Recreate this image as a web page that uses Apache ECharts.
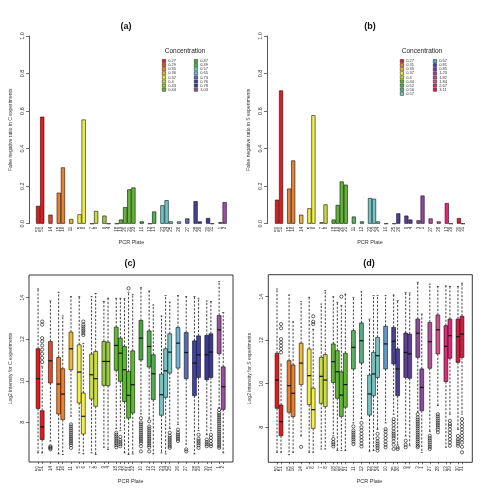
<!DOCTYPE html>
<html>
<head>
<meta charset="utf-8">
<script src="https://cdn.jsdelivr.net/npm/echarts@6/dist/echarts.min.js"></script>
<style>
  html, body { margin: 0; padding: 0; background: #fff; }
  #main { width: 497px; height: 492px; }
</style>
</head>
<body>
<div id="main"></div>
<script>
// ---- data ----
var cGroups = [2, 1, 2, 1, 2, 2, 2, 5, 1, 2, 3, 1, 1, 2, 2, 2];
var sGroups = [2, 2, 1, 2, 2, 4, 1, 1, 3, 1, 2, 2, 2, 1, 1, 2, 2];

var cConc = ['0.27', '0.29', '0.35', '0.36', '0.37', '0.4', '0.43', '0.44',
             '0.47', '0.49', '0.57', '0.65', '0.73', '0.76', '0.78', '1.03'];
var sConc = ['0.27', '0.31', '0.35', '0.37', '0.4', '0.44', '0.52', '0.56', '0.57',
             '0.67', '0.81', '0.85', '1.23', '1.82', '1.84', '2.67', '3.11'];

var cPlates = ['50', '51', '14', '15', '16', '11', '5', '6', '7', '8', '9', '4',
               '18', '19', '20', '21', '22', '10', '12', '13', '23', '24', '25',
               '26', '27', '28', '29', '30', '31', '1', '2'];
var sPlates = ['50', '51', '15', '16', '14', '5', '6', '7', '8', '18', '19', '20',
               '21', '11', '12', '22', '23', '24', '10', '25', '26', '9', '4', '3',
               '1', '27', '28', '13', '29', '30', '31'];

var cColors = ['#e31a1c', '#dc4c2c', '#ea8030', '#f2b631', '#f4f03c', '#c9dd3b', '#9bcc3f', '#5fba31',
               '#47a83c', '#4cb14a', '#72c7c6', '#6fb9d6', '#5b6ab2', '#41429e', '#3d3896', '#9a4ea2'];
var sColors = ['#e31a1c', '#ea8030', '#f2b631', '#f4f03c', '#c9dd3b', '#5fba31', '#55b55a', '#4fb47e',
               '#72c7c6', '#5d9ad4', '#4a3e9b', '#5e3f98', '#8b4a9c', '#b54d9b', '#d44f8c', '#e2267a', '#d41d3f'];

// false negative ratios
var cFalseNeg = [0.095, 0.57, 0.048, 0.165, 0.30, 0.025, 0.05, 0.555, 0, 0.068, 0.043, 0,
                 0, 0.022, 0.088, 0.183, 0.193, 0.012, 0, 0.065, 0.098, 0.125, 0.012,
                 0.012, 0.028, 0.12, 0.012, 0.03, 0, 0.008, 0.115];
var sFalseNeg = [0.128, 0.71, 0.187, 0.337, 0.048, 0.082, 0.578, 0.008, 0.103,
                 0.022, 0.1, 0.225, 0.208, 0.038, 0.012, 0.137, 0.133, 0.012, 0,
                 0, 0.055, 0.043, 0.022, 0.018, 0.15, 0.028, 0.012, 0.11, 0, 0.03, 0];

// log2 intensity box stats, C experiments
var cLow  = [6.53, 6.53, 7.1, 6.48, 6.45, 8.3, 6.53, 6.48, 6.53, 6.45, 6.8, 6.69, 7.7, 7.6, 6.53, 6.45,
             6.48, 8.4, 8.2, 6.48, 6.53, 6.48, 7.7, 7.9, 6.95, 6.48, 7.6, 7.4, 7.6, 8.7, 6.53];
var cQ1   = [8.66, 7.17, 9.89, 8.4, 8.13, 10.53, 8.93, 7.44, 9.12, 8.77, 9.78, 9.76, 10.5, 9.97, 9.0, 8.2,
             8.45, 11.0, 10.66, 9.09, 8.34, 9.2, 10.37, 10.61, 10.1, 9.28, 10.16, 10.05, 10.16, 11.31, 8.62];
var cMed  = [10.1, 7.78, 10.96, 9.84, 9.36, 11.54, 10.42, 8.29, 10.29, 10.1, 10.93, 10.93, 11.7, 11.33, 10.53, 9.3,
             9.81, 12.05, 11.65, 10.34, 9.33, 10.48, 11.38, 11.81, 11.36, 10.85, 11.25, 11.25, 11.38, 12.45, 9.71];
var cQ3   = [11.54, 8.56, 11.89, 11.12, 10.58, 12.34, 11.73, 9.41, 11.28, 11.41, 11.89, 11.86, 12.58, 12.05, 11.65, 10.45,
             11.44, 12.9, 12.4, 11.25, 10.32, 11.54, 12.26, 12.56, 12.32, 11.92, 12.16, 12.18, 12.26, 13.14, 10.67];
var cHigh = [14.42, 10.7, 13.84, 14.26, 13.12, 14.05, 14.05, 11.8, 14.05, 14.2, 13.81, 13.97, 13.97, 13.97, 13.95, 14.26,
             14.16, 14.48, 14.32, 13.65, 13.12, 14.1, 13.78, 14.1, 14.05, 14.05, 13.97, 13.84, 13.81, 14.77, 13.28];
var cOutliers = [
  [], [10.9, 11.1, 11.3, 11.5, 11.7, 11.9, 12.05, 12.7, 12.85], [6.7, 6.75, 6.8, 6.85], [], [],
  [6.77, 6.9, 7.0, 7.1, 7.2, 7.3, 7.4, 7.5, 7.6, 7.7, 7.8, 7.9], [], [12.2, 12.3, 12.4, 12.5, 12.6, 12.7, 12.85],
  [], [], [], [], [6.8, 6.9, 7.0, 7.1, 7.2, 7.3, 7.4, 7.5], [6.85, 6.95, 7.05, 7.15, 7.3], [], [14.45], [],
  [6.6, 6.85, 7.0, 7.1, 7.2, 7.3, 7.4, 7.5, 7.6, 7.7, 7.8, 7.9, 8.0, 8.2],
  [6.6, 6.8, 6.9, 7.0, 7.1, 7.2, 7.3, 7.4, 7.5, 7.6, 7.7, 7.8, 8.05], [], [], [],
  [6.77, 6.85, 6.95, 7.05, 7.15, 7.25, 7.35, 7.5], [7.1, 7.2, 7.3, 7.4, 7.5, 7.65], [6.6, 6.7], [],
  [6.77, 6.9, 7.0, 7.1, 7.2, 7.4], [6.85, 6.95, 7.05, 7.17], [6.85, 6.95, 7.1, 7.25, 7.4],
  [6.77, 6.85, 6.95, 7.05, 7.15, 7.25, 7.35, 7.45, 7.55, 7.65, 7.75, 7.85, 7.95, 8.05, 8.15, 8.25, 8.35, 8.45, 8.6],
  []
];

// log2 intensity box stats, S experiments
var sLow  = [6.85, 6.85, 6.74, 6.85, 7.6, 6.85, 6.85, 7.0, 7.0, 7.6, 6.93, 6.93, 6.93, 8.2, 8.4, 6.9,
             6.93, 7.9, 8.2, 8.6, 7.2, 7.6, 7.15, 8.7, 6.85, 7.8, 9.0, 7.08, 8.6, 7.9, 8.6];
var sQ1   = [8.87, 7.61, 8.69, 8.49, 9.96, 9.04, 7.95, 9.1, 8.95, 10.06, 9.33, 8.5, 8.92, 10.68, 10.95, 8.56,
             9.45, 10.29, 10.68, 10.91, 9.45, 10.29, 10.25, 11.21, 8.76, 10.71, 11.37, 10.1, 11.17, 10.98, 11.21];
var sMed  = [10.17, 8.26, 9.91, 9.56, 10.95, 10.37, 8.81, 10.34, 10.17, 11.01, 10.55, 9.48, 9.96, 11.67, 11.98, 9.53,
             10.45, 11.29, 11.83, 11.95, 10.68, 11.44, 11.37, 12.32, 9.83, 11.93, 12.48, 11.72, 12.21, 12.16, 12.28];
var sQ3   = [11.4, 9.02, 11.06, 10.86, 11.86, 11.6, 9.79, 11.21, 11.34, 11.83, 11.52, 10.55, 11.4, 12.44, 12.79, 10.4,
             11.44, 12.13, 12.64, 12.59, 11.6, 12.33, 12.28, 12.97, 10.68, 12.82, 13.16, 12.67, 12.97, 12.97, 13.1];
var sHigh = [14.35, 10.9, 14.08, 12.85, 13.77, 13.97, 12.5, 13.66, 14.28, 14.0, 13.74, 13.59, 14.12, 13.97, 14.23, 12.97,
             14.05, 14.05, 14.05, 14.08, 13.82, 14.2, 14.17, 14.66, 13.2, 14.58, 14.47, 14.5, 14.47, 14.47, 14.62];
var sOutliers = [
  [], [11.44, 11.6, 11.75, 11.9, 12.05, 12.55, 12.74], [], [], [7.1], [], [12.74, 12.85, 13.1], [], [],
  [7.12, 7.22, 7.32, 7.46], [], [14.0], [],
  [7.23, 7.35, 7.45, 7.55, 7.65, 7.75, 7.85, 8.04], [7.12, 7.25, 7.4, 7.55, 7.7, 7.85, 8.0, 8.2], [], [],
  [6.93, 7.05, 7.15, 7.25, 7.35, 7.5, 7.7], [7.08, 7.2, 7.35, 7.5, 7.65, 7.8, 7.92],
  [7.0, 7.2, 7.35, 7.5, 7.6, 7.7, 7.8, 7.95, 8.1, 8.25, 8.38], [7.0, 7.08], [7.08, 7.2, 7.38], [],
  [7.08, 7.15, 7.25, 7.35, 7.45, 7.55, 7.65, 7.75, 7.85, 7.95, 8.05, 8.15, 8.25, 8.35, 8.45, 8.6], [],
  [7.0, 7.1, 7.2, 7.3, 7.4, 7.5, 7.61], [7.77, 7.9, 8.0, 8.1, 8.2, 8.3, 8.4, 8.5, 8.6], [],
  [7.15, 7.3, 7.45, 7.6, 7.75, 7.9, 8.05, 8.15, 8.3], [7.15, 7.25, 7.35, 7.45, 7.6],
  [6.85, 7.1, 7.3, 7.45, 7.6, 7.75, 7.9, 8.05, 8.2, 8.38]
];

// ---- helpers ----
var FONT = 'Liberation Sans, Arial, sans-serif';

// category list with one blank slot between groups
function buildCats(groups, plates) {
  var cats = [], pos = [], grp = [], k = 0;
  groups.forEach(function (n, g) {
    if (g > 0) cats.push('');
    for (var i = 0; i < n; i++) {
      pos.push(cats.length);
      grp.push(g);
      cats.push(plates[k++]);
    }
  });
  return { cats: cats, pos: pos, grp: grp };
}

var cL = buildCats(cGroups, cPlates);
var sL = buildCats(sGroups, sPlates);

function barSeries(L, values, conc, colors, prefix, gi) {
  return conc.map(function (c, g) {
    var data = L.cats.map(function () { return '-'; });
    L.pos.forEach(function (p, k) { if (L.grp[k] === g) data[p] = values[k]; });
    return {
      name: prefix + c, type: 'bar', stack: prefix, xAxisIndex: gi, yAxisIndex: gi,
      barCategoryGap: '0%', data: data, silent: true,
      itemStyle: { color: colors[g], borderColor: '#111', borderWidth: 0.6 }
    };
  });
}

function boxSeries(L, low, q1, med, q3, high, colors, gi) {
  var data = L.pos.map(function (p, k) {
    return [p, low[k], q1[k], med[k], q3[k], high[k], L.grp[k]];
  });
  return {
    type: 'custom', xAxisIndex: gi, yAxisIndex: gi, data: data, silent: true,
    renderItem: function (params, api) {
      var i = api.value(0);
      var pl = api.coord([i, api.value(1)]);
      var p1 = api.coord([i, api.value(2)]);
      var pm = api.coord([i, api.value(3)]);
      var p3 = api.coord([i, api.value(4)]);
      var ph = api.coord([i, api.value(5)]);
      var bw = api.size([1, 0])[0] * 0.95;
      var cx = pl[0];
      var dash = { stroke: '#111', lineWidth: 0.8, lineDash: [2.2, 1.6] };
      var solid = { stroke: '#111', lineWidth: 0.7 };
      return {
        type: 'group',
        children: [
          { type: 'line', shape: { x1: cx, y1: p3[1], x2: cx, y2: ph[1] }, style: dash },
          { type: 'line', shape: { x1: cx, y1: p1[1], x2: cx, y2: pl[1] }, style: dash },
          { type: 'line', shape: { x1: cx - bw / 4, y1: ph[1], x2: cx + bw / 4, y2: ph[1] }, style: solid },
          { type: 'line', shape: { x1: cx - bw / 4, y1: pl[1], x2: cx + bw / 4, y2: pl[1] }, style: solid },
          { type: 'rect', shape: { x: cx - bw / 2, y: p3[1], width: bw, height: p1[1] - p3[1] },
            style: { fill: colors[api.value(6)], stroke: '#111', lineWidth: 0.6 } },
          { type: 'line', shape: { x1: cx - bw / 2, y1: pm[1], x2: cx + bw / 2, y2: pm[1] },
            style: { stroke: '#111', lineWidth: 1.2 } }
        ]
      };
    }
  };
}

function outlierSeries(L, outs, gi) {
  var data = [];
  outs.forEach(function (list, k) {
    list.forEach(function (v) { data.push([L.pos[k], v]); });
  });
  return {
    type: 'scatter', xAxisIndex: gi, yAxisIndex: gi, data: data, silent: true,
    symbol: 'circle', symbolSize: 3.2,
    itemStyle: { color: 'rgba(255,255,255,0)', borderColor: '#111', borderWidth: 0.8 }
  };
}

function catAxis(L, gi, ticks) {
  return {
    type: 'category', gridIndex: gi, data: L.cats,
    name: 'PCR Plate', nameLocation: 'middle', nameGap: 16,
    nameTextStyle: { fontSize: 5.5, color: '#333', fontFamily: FONT },
    axisLine: { show: false },
    axisTick: { show: !!ticks, length: 2, alignWithLabel: true,
                interval: function (i, v) { return v !== ''; },
                lineStyle: { color: '#111', width: 0.6 } },
    axisLabel: { interval: 0, rotate: 90, fontSize: 4.5, color: '#333', margin: ticks ? 4 : 3, fontFamily: FONT }
  };
}

function valAxis(gi, opts) {
  var ax = {
    type: 'value', gridIndex: gi, offset: opts.offset,
    name: opts.name, nameLocation: 'middle', nameGap: opts.nameGap,
    nameTextStyle: { fontSize: 5, color: '#333', fontFamily: FONT },
    min: opts.min, max: opts.max,
    axisLine: { show: true, lineStyle: { color: '#111', width: 0.7 } },
    axisTick: { show: true, length: 3, lineStyle: { color: '#111', width: 0.6 } },
    axisLabel: { rotate: 90, fontSize: 5.5, color: '#333', margin: 4, fontFamily: FONT },
    splitLine: { show: false }
  };
  if (opts.interval) {
    ax.interval = opts.interval;
    ax.axisLabel.formatter = function (v) { return v.toFixed(1); };
  }
  if (opts.ticks) {
    ax.axisLabel.customValues = opts.ticks;
    ax.axisTick.customValues = opts.ticks;
    ax.axisLine.show = false;
  }
  return ax;
}

function legendCol(names, colors, prefix, left, top) {
  return {
    orient: 'vertical', left: left, top: top, padding: 0,
    itemWidth: 3.4, itemHeight: 3.2, itemGap: 0.1, selectedMode: false,
    icon: 'rect',
    data: names.map(function (n, i) {
      return { name: prefix + n, itemStyle: { color: colors[i], borderColor: '#222', borderWidth: 0.5 } };
    }),
    formatter: function (n) { return n.slice(prefix.length); },
    textStyle: { fontSize: 4, lineHeight: 3.2, color: '#333', fontFamily: FONT, padding: [0, 0, 0, -2.5] }
  };
}

function frameAxes(gi) {
  return [
    { type: 'value', gridIndex: gi, show: false },
    { type: 'value', gridIndex: gi, show: false }
  ];
}

var chart = echarts.init(document.getElementById('main'), null, { renderer: 'canvas' });

var titleStyle = { fontSize: 9, fontWeight: 'bold', color: '#111', fontFamily: FONT };
var legTitleStyle = { fontSize: 6.5, fontWeight: 'normal', color: '#222', fontFamily: FONT };

var frameX = frameAxes(4), frameX2 = frameAxes(5);

var option = {
  animation: false,
  backgroundColor: '#fff',
  title: [
    { text: '(a)', left: 126, top: 22, textAlign: 'center', textStyle: titleStyle, padding: 0 },
    { text: '(b)', left: 370, top: 22, textAlign: 'center', textStyle: titleStyle, padding: 0 },
    { text: '(c)', left: 130, top: 259, textAlign: 'center', textStyle: titleStyle, padding: 0 },
    { text: '(d)', left: 369, top: 259, textAlign: 'center', textStyle: titleStyle, padding: 0 },
    { text: 'Concentration', left: 185, top: 48, textAlign: 'center', textStyle: legTitleStyle, padding: 0 },
    { text: 'Concentration', left: 422, top: 48, textAlign: 'center', textStyle: legTitleStyle, padding: 0 }
  ],
  legend: [
    legendCol(cConc.slice(0, 8), cColors.slice(0, 8), 'C ', 162, 59),
    legendCol(cConc.slice(8), cColors.slice(8), 'C ', 194, 59),
    legendCol(sConc.slice(0, 9), sColors.slice(0, 9), 'S ', 400, 59),
    legendCol(sConc.slice(9), sColors.slice(9), 'S ', 433, 59)
  ],
  grid: [
    { left: 36, right: 270.3, top: 36, bottom: 268.3 },
    { left: 275, right: 32, top: 36, bottom: 268.3 },
    { left: 36, right: 271.7, top: 275, bottom: 30 },
    { left: 275, right: 33, top: 274.7, bottom: 29.7 },
    { left: 29, right: 264, top: 275, bottom: 30, show: true, borderColor: '#222', borderWidth: 0.9, backgroundColor: 'transparent' },
    { left: 268.3, right: 24.7, top: 274.7, bottom: 29.7, show: true, borderColor: '#222', borderWidth: 0.9, backgroundColor: 'transparent' }
  ],
  xAxis: [
    catAxis(cL, 0, false),
    catAxis(sL, 1, false),
    catAxis(cL, 2, true),
    catAxis(sL, 3, true),
    frameX[0], frameX2[0]
  ],
  yAxis: [
    valAxis(0, { offset: 7, name: 'False negative ratio in C experiments', nameGap: 16, min: 0, max: 1, interval: 0.2 }),
    valAxis(1, { offset: 8, name: 'False negative ratio in S experiments', nameGap: 16, min: 0, max: 1, interval: 0.2 }),
    valAxis(2, { offset: 7, name: 'Log2 intensity for C experiments', nameGap: 16, min: 6.09, max: 15.09, ticks: [8, 10, 12, 14] }),
    valAxis(3, { offset: 6.7, name: 'Log2 intensity for S experiments', nameGap: 16, min: 6.39, max: 15.01, ticks: [8, 10, 12, 14] }),
    frameX[1], frameX2[1]
  ],
  series: [].concat(
    barSeries(cL, cFalseNeg, cConc, cColors, 'C ', 0),
    barSeries(sL, sFalseNeg, sConc, sColors, 'S ', 1),
    [boxSeries(cL, cLow, cQ1, cMed, cQ3, cHigh, cColors, 2),
     outlierSeries(cL, cOutliers, 2),
     boxSeries(sL, sLow, sQ1, sMed, sQ3, sHigh, sColors, 3),
     outlierSeries(sL, sOutliers, 3)]
  )
};

chart.setOption(option);
</script>
</body>
</html>
